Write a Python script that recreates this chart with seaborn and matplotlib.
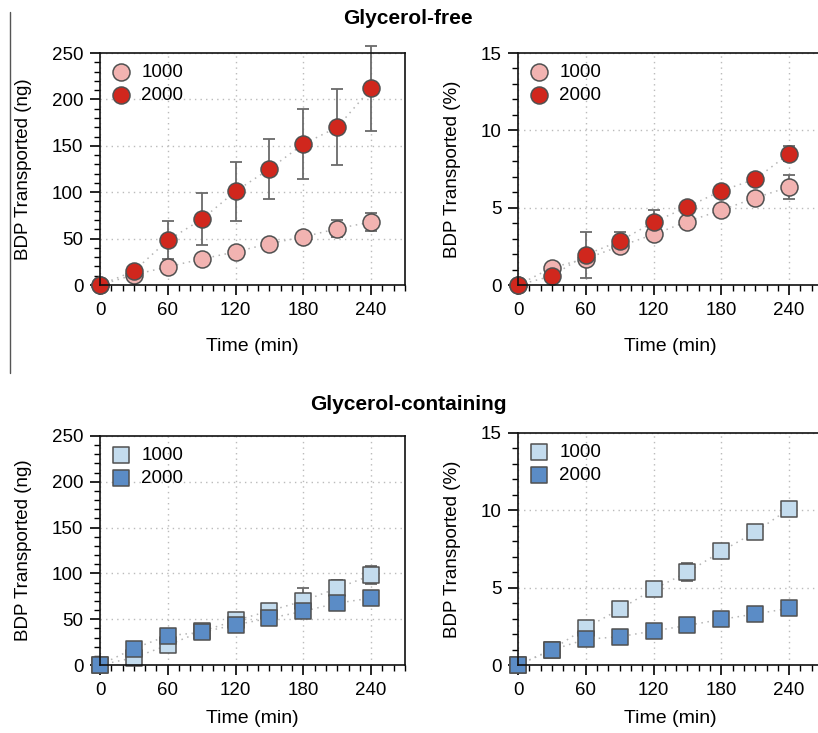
import numpy as np
import pandas as pd
import seaborn as sns
import matplotlib.pyplot as plt
from matplotlib.lines import Line2D
from matplotlib.ticker import MultipleLocator

# Data
time = [0, 30, 60, 90, 120, 150, 180, 210, 240]

# Glycerol-free, amount (ng)
free_ng_1000 = [0, 11, 19.6, 28, 35.7, 44.6, 51.8, 60.7, 67.9]
free_ng_1000_err = [0, 0, 0, 0, 0, 0, 3, 9.5, 9.7]
free_ng_2000 = [0, 15, 48.2, 70.7, 101, 125, 151.8, 170, 211.8]
free_ng_2000_err = [0, 0, 20.4, 28, 32, 32, 38, 41, 46]

# Glycerol-free, percent
free_pct_1000 = [0, 1.12, 1.7, 2.5, 3.27, 4.1, 4.84, 5.63, 6.34]
free_pct_1000_err = [0, 0, 0, 0, 0.1, 0, 0, 0, 0.77]
free_pct_2000 = [0, 0.58, 1.95, 2.84, 4.06, 5.05, 6.09, 6.84, 8.49]
free_pct_2000_err = [0, 0, 1.5, 0.6, 0.8, 0, 0, 0, 0.5]

# Glycerol-containing, amount (ng)
gly_ng_1000 = [0, 8, 21.6, 36.7, 48.6, 59, 70, 83.8, 98]
gly_ng_1000_err = [0, 0, 0, 0, 0, 7, 14, 9, 10]
gly_ng_2000 = [0, 18, 32, 35.6, 44, 51, 58.6, 67.6, 73]
gly_ng_2000_err = [0, 0, 0, 0, 0, 0, 0, 0, 0]

# Glycerol-containing, percent
gly_pct_1000 = [0, 1.0, 2.4, 3.6, 4.9, 6.0, 7.35, 8.6, 10.1]
gly_pct_1000_err = [0, 0, 0, 0, 0, 0.6, 0.25, 0, 0]
gly_pct_2000 = [0, 0.97, 1.66, 1.83, 2.2, 2.56, 2.95, 3.3, 3.66]
gly_pct_2000_err = [0, 0, 0, 0, 0, 0, 0, 0, 0]

labels = ["1000", "2000"]
red_colors = ["#F2B3B1", "#D0271D"]
blue_colors = ["#C4DCEE", "#5B8CC6"]

sns.set_theme(style="ticks")
plt.rcParams["font.family"] = ["Liberation Sans", "DejaVu Sans"]
plt.rcParams["text.color"] = "black"
plt.rcParams["axes.labelcolor"] = "black"
plt.rcParams["xtick.color"] = "black"
plt.rcParams["ytick.color"] = "black"

fig = plt.figure(figsize=(8.18, 7.33), dpi=100)
W, H = 818, 733


def make_ax(left, top, right, bottom):
    return fig.add_axes([left / W, 1 - bottom / H, (right - left) / W, (bottom - top) / H])


def draw_panel(ax, series, errs, colors, marker, size, ymax, ymajor, yminor, ylabel, xpad):
    ax.set_xlim(0, 270)
    ax.set_ylim(0, ymax)
    for vals, err, col, lab in zip(series, errs, colors, labels):
        df = pd.DataFrame({"time": time, "value": vals})
        sns.lineplot(data=df, x="time", y="value", ax=ax, color="#b5b5b5",
                     linestyle=(0, (1, 3)), linewidth=1.1, zorder=1, legend=False)
        ax.errorbar(time, vals, yerr=err, fmt="none", ecolor="#6a6a6a",
                    elinewidth=1.3, capsize=4, capthick=1.3, zorder=2, clip_on=False)
        sns.scatterplot(data=df, x="time", y="value", ax=ax, color=col, marker=marker,
                        s=size, edgecolor="#505050", linewidth=1.1, zorder=3,
                        label=lab, clip_on=False)
    ax.xaxis.set_major_locator(MultipleLocator(60))
    ax.xaxis.set_minor_locator(MultipleLocator(10))
    ax.yaxis.set_major_locator(MultipleLocator(ymajor))
    ax.yaxis.set_minor_locator(MultipleLocator(yminor))
    ax.tick_params(which="major", length=7, width=1.2, labelsize=13.5, pad=5)
    ax.tick_params(which="minor", length=4, width=1.0)
    ax.grid(which="major", linestyle=(0, (1, 3)), color="#bbbbbb", linewidth=1.0)
    for sp in ax.spines.values():
        sp.set_linewidth(1.2)
        sp.set_color("#111111")
        sp.set_zorder(4)
    ax.set_xlabel("Time (min)", fontsize=14, labelpad=xpad)
    ax.set_ylabel(ylabel, fontsize=13.5, labelpad=14)
    ax.legend(loc="upper left", frameon=False, fontsize=13.5, handlelength=1.0,
              handletextpad=0.6, labelspacing=0.3, borderaxespad=0.3, borderpad=0.3)


ax1 = make_ax(100, 53, 405, 285)
ax2 = make_ax(518, 53, 823, 285)
ax3 = make_ax(100, 436, 405, 665)
ax4 = make_ax(518, 433, 823, 665)

draw_panel(ax1, [free_ng_1000, free_ng_2000], [free_ng_1000_err, free_ng_2000_err],
           red_colors, "o", 150, 250, 50, 10, "BDP Transported (ng)", 14)
draw_panel(ax2, [free_pct_1000, free_pct_2000], [free_pct_1000_err, free_pct_2000_err],
           red_colors, "o", 150, 15, 5, 1, "BDP Transported (%)", 14)
draw_panel(ax3, [gly_ng_1000, gly_ng_2000], [gly_ng_1000_err, gly_ng_2000_err],
           blue_colors, "s", 120, 250, 50, 10, "BDP Transported (ng)", 8)
draw_panel(ax4, [gly_pct_1000, gly_pct_2000], [gly_pct_1000_err, gly_pct_2000_err],
           blue_colors, "s", 120, 15, 5, 1, "BDP Transported (%)", 8)

title_font = ["Liberation Sans", "DejaVu Sans"]
fig.text(408 / W, 1 - 19 / H, "Glycerol-free", ha="center", va="center",
         fontsize=15, fontweight="bold", family=title_font)
fig.text(408 / W, 1 - 405 / H, "Glycerol-containing", ha="center", va="center",
         fontsize=15, fontweight="bold", family=title_font)

# thin vertical rule at the left edge
fig.add_artist(Line2D([10 / W, 10 / W], [1 - 12 / H, 1 - 373 / H], color="#555555", linewidth=1.0))

plt.savefig("out.png", dpi=100)
plt.close()
